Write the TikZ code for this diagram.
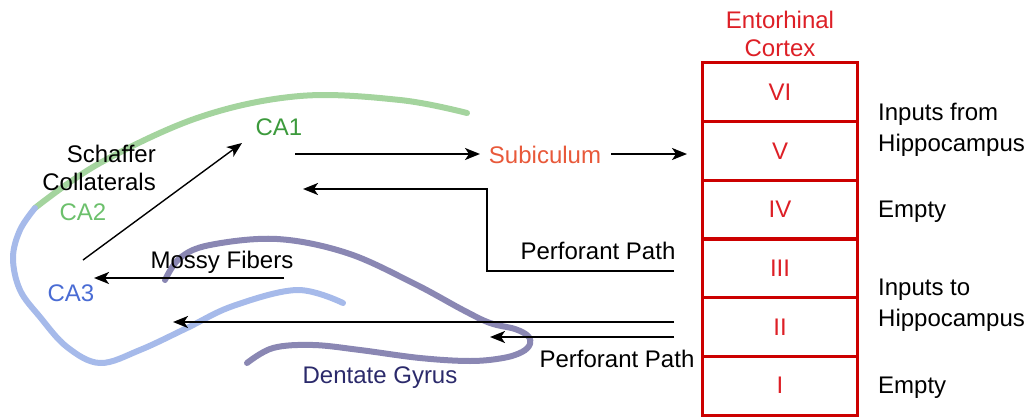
\documentclass[tikz,border=0pt]{standalone}
\usepackage{fontspec}
\setmainfont{Liberation Sans}
\usetikzlibrary{arrows.meta}

\definecolor{cagreen}{HTML}{A4D49E}
\definecolor{cablue}{HTML}{A6BAEA}
\definecolor{dgpurple}{HTML}{8A87B3}
\definecolor{ecred}{HTML}{CC0000}
\definecolor{ectext}{HTML}{DD1F26}
\definecolor{caonetext}{HTML}{3C9A3C}
\definecolor{catwotext}{HTML}{6CC06C}
\definecolor{cathreetext}{HTML}{4A6CD4}
\definecolor{subtext}{HTML}{E8593A}
\definecolor{dgtext}{HTML}{2B2A6B}

\begin{document}
\begin{tikzpicture}[x=1pt,y=-1pt,
  lbl/.style={font=\fontsize{24}{29}\selectfont, inner sep=0pt, align=center},
  band/.style={line width=6pt, line cap=round, line join=round},
  arr/.style={line width=2pt, -{Stealth[length=15pt,width=12pt,inset=4pt]}},
  layer/.style={draw=ecred, line width=3pt, minimum width=155pt, minimum height=58.7pt,
                inner sep=0pt, text=ectext, font=\fontsize{24}{29}\selectfont},
]
\useasboundingbox (0,0) rectangle (1032,417);

% hippocampal fields
\draw[band, cagreen] plot[smooth, tension=0.6] coordinates
  {(35,208) (100,163) (200,117) (300,96) (400,100) (467,113)};
\draw[band, cablue] plot[smooth, tension=0.6] coordinates
  {(35,208) (20,230) (13,258) (20,290) (40,317) (67,347) (100,363)
   (140,350) (187,328) (233,306) (297,290) (343,303)};
\draw[band, dgpurple] plot[smooth, tension=0.6] coordinates
  {(165,280) (180,258) (210,245) (277,239) (347,253) (413,283) (463,310)
   (490,323) (515,329) (528,336) (530,344) (522,352) (503,358) (470,361)
   (420,358) (360,350) (313,345) (273,348) (247,363)};

% entorhinal cortex layers
\node[layer] (L6) at (780,92.3)  {VI};
\node[layer] (L5) at (780,151.0) {V};
\node[layer] (L4) at (780,209.7) {IV};
\node[layer] (L3) at (780,268.3) {III};
\node[layer] (L2) at (780,327.0) {II};
\node[layer] (L1) at (780,385.7) {I};

% labels
\node[lbl, text=ectext] (ec) at (780,34) {Entorhinal\\[-1pt]Cortex};
\node[lbl, text=caonetext] (ca1) at (279,127) {CA1};
\node[lbl, text=catwotext] (ca2) at (83,212) {CA2};
\node[lbl, text=cathreetext] (ca3) at (71,293) {CA3};
\node[lbl, text=subtext] (sub) at (545,155) {Subiculum};
\node[lbl, text=dgtext] (dg) at (380,378) {Dentate Gyrus};
\node[lbl, align=right, anchor=east] (sch) at (156,168) {Schaffer\\[-1pt]Collaterals};
\node[lbl] (mossy) at (222,262) {Mossy Fibers};
\node[lbl] (ppup) at (598,251) {Perforant Path};
\node[lbl] (pplow) at (617,359) {Perforant Path};
\node[lbl, align=left, anchor=west] (infrom) at (878,130) {Inputs from\\[2pt]Hippocampus};
\node[lbl, anchor=west] (empty1) at (878,212) {Empty};
\node[lbl, align=left, anchor=west] (into) at (878,305) {Inputs to\\[2pt]Hippocampus};
\node[lbl, anchor=west] (empty2) at (878,388) {Empty};

% connector end points
\coordinate (schA) at (83,260);
\coordinate (schB) at (242,143);
\coordinate (mfA) at (284,278);
\coordinate (mfB) at (94,278);
\coordinate (caoneOut) at (295,154);
\coordinate (subIn) at (480,154);
\coordinate (subOut) at (611,154);
\coordinate (ecIn) at (687,154);
\coordinate (ppA) at (674,271);
\coordinate (ppBend) at (487,189);
\coordinate (ppTip) at (303,189);
\coordinate (ppLongA) at (674,322);
\coordinate (ppLongB) at (173,322);
\coordinate (ppDgA) at (674,337);
\coordinate (ppDgB) at (490,337);

% pathways
\draw[arr, line width=1.4pt] (schA) -- (schB);
\draw[arr] (mfA) -- (mfB);
\draw[arr] (caoneOut) -- (subIn);
\draw[arr] (subOut) -- (ecIn);
\draw[arr] (ppA) -| (ppBend) -- (ppTip);
\draw[arr] (ppLongA) -- (ppLongB);
\draw[arr] (ppDgA) -- (ppDgB);
\end{tikzpicture}
\end{document}
